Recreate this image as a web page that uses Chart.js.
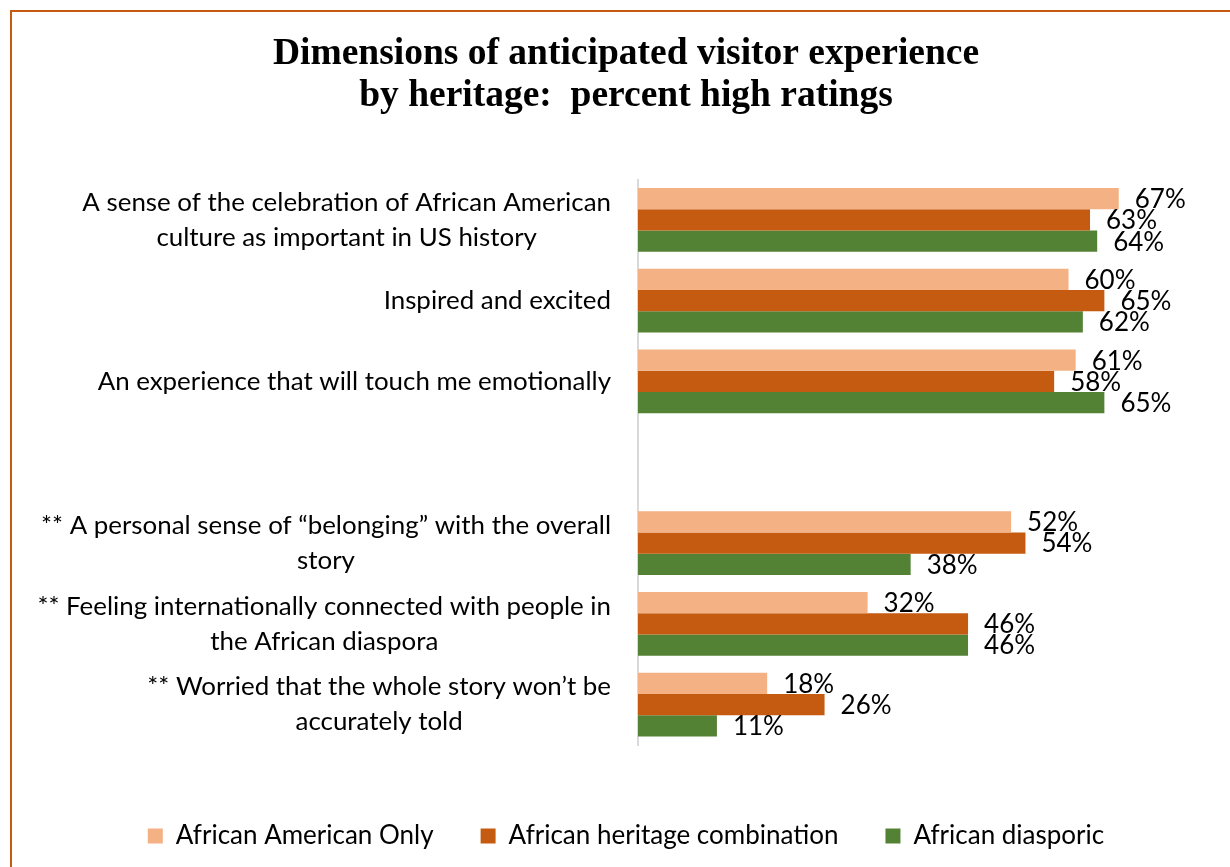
<!DOCTYPE html>
<html>
<head>
<meta charset="utf-8">
<title>Dimensions of anticipated visitor experience by heritage</title>
<script src="https://cdn.jsdelivr.net/npm/chart.js@4"></script>
<style>
  html, body { margin: 0; padding: 0; background: #fff; }
  #wrap { position: relative; width: 1230px; height: 867px; overflow: hidden; }
  #frame {
    position: absolute; left: 10px; top: 10px; width: 1300px; height: 900px;
    border-top: 2px solid #C55A11; border-left: 2px solid #C55A11;
  }
  #chart { position: absolute; left: 0; top: 0; }
</style>
</head>
<body>
<div id="wrap">
  <div id="frame"></div>
  <canvas id="chart" width="1230" height="867"></canvas>
</div>
<script>
// categories (blank entry leaves the gap between the two blocks)
const categories = [
  ['A sense of the celebration of African American', 'culture as important in US history'],
  ['Inspired and excited'],
  ['An experience that will touch me emotionally'],
  [''],
  ['** A personal sense of \u201cbelonging\u201d with the overall', 'story'],
  ['** Feeling internationally connected with people in', 'the African diaspora'],
  ['** Worried that the whole story won\u2019t be', 'accurately told']
];

const seriesNames = ['African American Only', 'African heritage combination', 'African diasporic'];
const africanAmericanOnly = [67, 60, 61, null, 52, 32, 18];
const heritageCombination = [63, 65, 58, null, 54, 46, 26];
const africanDiasporic   = [64, 62, 65, null, 38, 46, 11];
const seriesColors = ['#F4B183', '#C55A11', '#548235'];

const LABEL_FONT = '"Lato", "Noto Sans", sans-serif';
const AXIS_X = 638;

// percentage text just past the end of each bar
const valueLabels = {
  id: 'valueLabels',
  afterDatasetsDraw(chart) {
    const ctx = chart.ctx;
    ctx.save();
    ctx.font = '26px ' + LABEL_FONT;
    ctx.fillStyle = '#000';
    ctx.textAlign = 'left';
    ctx.textBaseline = 'middle';
    chart.data.datasets.forEach((ds, di) => {
      const meta = chart.getDatasetMeta(di);
      meta.data.forEach((bar, i) => {
        const v = ds.data[i];
        if (v === null || v === undefined) return;
        ctx.fillText(v + '%', bar.x + 16, bar.y + 1);
      });
    });
    ctx.restore();
  }
};

// wrapped category labels: block right-aligned to the axis, lines centred in the block
const categoryLabels = {
  id: 'categoryLabels',
  afterDraw(chart) {
    const ctx = chart.ctx;
    const yScale = chart.scales.y;
    const right = chart.chartArea.left - 27;
    const lineHeight = 35;
    ctx.save();
    ctx.font = '25.9px ' + LABEL_FONT;
    ctx.fillStyle = '#000';
    ctx.textAlign = 'center';
    ctx.textBaseline = 'middle';
    categories.forEach((lines, i) => {
      const widest = Math.max(...lines.map(l => ctx.measureText(l).width));
      const cx = right - widest / 2;
      const cy = yScale.getPixelForTick(i);
      const top = cy - (lines.length - 1) * lineHeight / 2;
      lines.forEach((l, k) => ctx.fillText(l, cx, top + k * lineHeight));
    });
    ctx.restore();
  }
};

const padLeft = 40;

const ctx = document.getElementById('chart').getContext('2d');
new Chart(ctx, {
  type: 'bar',
  data: {
    labels: categories,
    datasets: [
      { label: seriesNames[0], data: africanAmericanOnly, backgroundColor: seriesColors[0] },
      { label: seriesNames[1], data: heritageCombination, backgroundColor: seriesColors[1] },
      { label: seriesNames[2], data: africanDiasporic, backgroundColor: seriesColors[2] }
    ]
  },
  options: {
    indexAxis: 'y',
    responsive: false,
    animation: false,
    events: [],
    categoryPercentage: 0.79,
    barPercentage: 1.0,
    layout: { padding: { top: 0, right: 18, bottom: 8, left: padLeft } },
    scales: {
      x: {
        min: 0,
        max: 80,
        ticks: { display: false },
        grid: { display: false, drawTicks: false },
        border: { display: false },
        afterFit(scale) { scale.height = 31; }
      },
      y: {
        ticks: { display: false },
        grid: { display: false, drawTicks: false },
        border: { display: true, color: '#D9D9D9', width: 2 },
        afterFit(scale) { scale.width = AXIS_X - padLeft; }
      }
    },
    plugins: {
      title: {
        display: true,
        text: ['Dimensions of anticipated visitor experience', 'by heritage:  percent high ratings'],
        color: '#000',
        font: { family: '"Liberation Serif", "DejaVu Serif", serif', size: 37.5, weight: 'bold', lineHeight: 1.1 },
        padding: { top: 34, bottom: 63 }
      },
      legend: {
        position: 'bottom',
        labels: {
          color: '#000',
          font: { family: LABEL_FONT, size: 26 },
          boxWidth: 15,
          boxHeight: 15,
          padding: 47
        }
      },
      tooltip: { enabled: false }
    }
  },
  plugins: [valueLabels, categoryLabels]
});
</script>
</body>
</html>
